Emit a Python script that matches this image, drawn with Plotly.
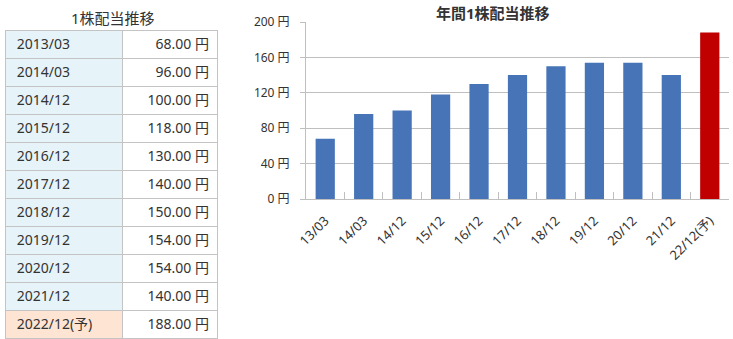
import plotly.graph_objects as go

periods = ["2013/03", "2014/03", "2014/12", "2015/12", "2016/12", "2017/12",
           "2018/12", "2019/12", "2020/12", "2021/12", "2022/12(予)"]
short_labels = ["13/03", "14/03", "14/12", "15/12", "16/12", "17/12",
                "18/12", "19/12", "20/12", "21/12", "22/12(予)"]
dividends = [68, 96, 100, 118, 130, 140, 150, 154, 154, 140, 188]
is_forecast = [False] * 10 + [True]
y_ticks = [0, 40, 80, 120, 160, 200]

FONT = "Noto Sans, Noto Sans CJK JP"
W, H = 733, 339

bar_colors = ["#c00000" if f else "#4674b7" for f in is_forecast]
left_fill = ["#fde4d3" if f else "#e6f3f8" for f in is_forecast]
right_fill = ["#ffffff"] * len(periods)
pad = "\u00a0" * 1

fig = go.Figure()

fig.add_trace(go.Table(
    domain=dict(x=[5 / W, 218 / W], y=[(H - 339) / H, (H - 14) / H]),
    columnwidth=[118, 95],
    header=dict(values=[], height=0, line=dict(width=0), fill=dict(color="white")),
    cells=dict(
        values=[[pad + p for p in periods], [f"{v:.2f} 円" for v in dividends]],
        fill=dict(color=[left_fill, right_fill]),
        line=dict(color="#c4c4c4", width=1),
        align=["left", "right"],
        font=dict(family=FONT, size=14, color="#333333"),
        height=28,
    ),
))

fig.add_trace(go.Bar(
    x=short_labels, y=dividends, marker=dict(color=bar_colors, line=dict(width=0)),
    width=0.5, showlegend=False, hoverinfo="x+y",
))

fig.update_layout(
    width=W, height=H,
    margin=dict(l=0, r=0, t=0, b=0),
    paper_bgcolor="white", plot_bgcolor="white",
    font=dict(family=FONT, color="#333333"),
    xaxis=dict(
        domain=[306 / W, 729 / W], automargin=False,
        tickangle=-45, tickfont=dict(size=13, color="#333333"),
        showline=True, linecolor="#bfbfbf", linewidth=1,
        ticks="inside", ticklen=7, tickcolor="#bfbfbf", tickwidth=1, tickson="boundaries",
        ticklabelstandoff=8,
        showgrid=False,
    ),
    yaxis=dict(
        domain=[(H - 199) / H, (H - 22) / H], automargin=False,
        range=[0, 200], tickvals=y_ticks, ticktext=[f"{v} 円" for v in y_ticks],
        tickfont=dict(size=12, color="#333333"),
        showline=True, linecolor="#bfbfbf", linewidth=1,
        showgrid=True, gridcolor="#bfbfbf", gridwidth=1,
        ticks="outside", ticklen=5, tickcolor="#bfbfbf", ticklabelstandoff=8,
        zeroline=False,
    ),
    annotations=[
        dict(text="1株配当推移", x=113 / W, y=(H - 18) / H, xref="paper", yref="paper",
             xanchor="center", yanchor="middle", showarrow=False,
             font=dict(family=FONT, size=15, color="#333333")),
        dict(text="<b>年間1株配当推移</b>", x=493 / W, y=(H - 12.5) / H, xref="paper", yref="paper",
             xanchor="center", yanchor="middle", showarrow=False,
             font=dict(family=FONT, size=15, color="#333333")),
    ],
)

fig.write_html("out.html")
